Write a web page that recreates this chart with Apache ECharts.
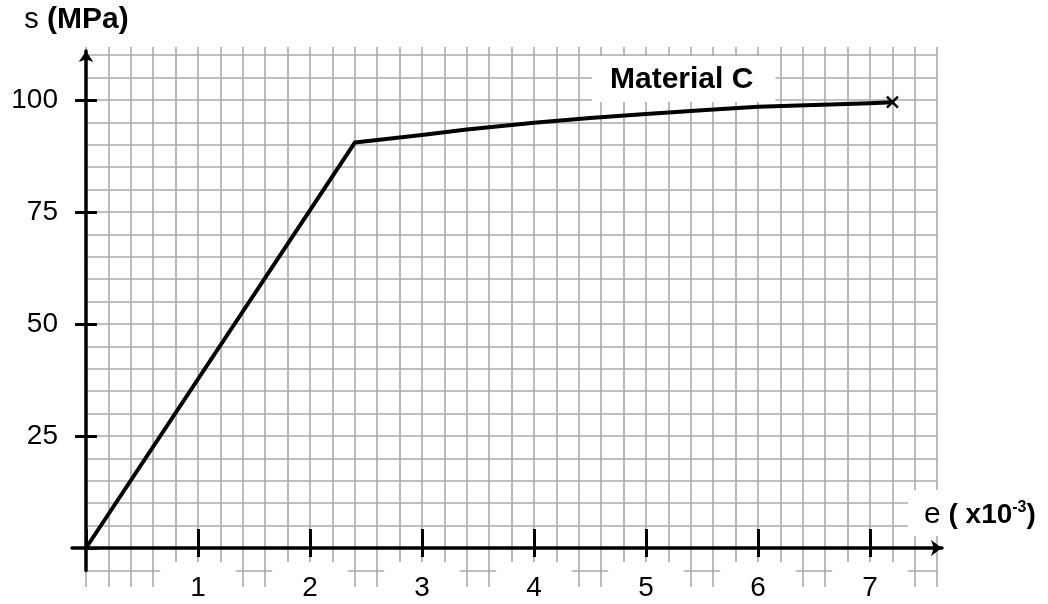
<!DOCTYPE html>
<html>
<head>
<meta charset="utf-8">
<script src="https://cdn.jsdelivr.net/npm/echarts@6/dist/echarts.min.js"></script>
<style>
  html, body { margin: 0; padding: 0; background: #fff; }
  #chart { width: 1048px; height: 604px; }
</style>
</head>
<body>
<div id="chart"></div>
<script>
// ---- data ----
const seriesName = 'Material C';
const strain = [0, 2.4, 3.0, 3.4, 4.0, 4.5, 5.0, 5.5, 6.0, 6.5, 7.0, 7.2];      // x10^-3
const stress = [0, 90.5, 92.2, 93.4, 94.9, 96.0, 96.9, 97.7, 98.5, 98.9, 99.3, 99.5]; // MPa
const xTicks = [1, 2, 3, 4, 5, 6, 7];
const yTicks = [25, 50, 75, 100];
const xName = ['e', ' ( x10', '-3', ')'];
const yName = ['s', ' (MPa)'];

// ---- layout (px) ----
const FONT = "'Liberation Sans', Arial, sans-serif";
const X0 = 86, Y0 = 548, PX = 112, PY = 4.48;
const XMAX = 7.6, YGMIN = -5, YGMAX = 110;
const GRID_COLOR = '#ababab';

const mainTop = 51;
const mainYMax = (Y0 - mainTop) / PY;

const hidden = { show: false };
function hiddenAxis(grid, extra) {
  return Object.assign({ gridIndex: grid, type: 'value', show: false, min: 0, max: 1 }, extra || {});
}

const lastIdx = strain.length - 1;
const seriesData = strain.map((x, i) => {
  if (i === lastIdx) {
    return {
      value: [x, stress[i]],
      symbol: 'path://M0,0L10,10M10,0L0,10',
      symbolSize: 11,
      itemStyle: { color: '#000', borderColor: '#000', borderWidth: 2.5 }
    };
  }
  return [x, stress[i]];
});

const option = {
  animation: false,
  backgroundColor: '#fff',
  textStyle: { fontFamily: FONT },
  title: [
    {
      text: seriesName,
      left: 592, top: 56,
      backgroundColor: '#fff',
      padding: [7, 22, 5, 18],
      textStyle: { fontFamily: FONT, fontSize: 30, fontWeight: 'bold', color: '#000', lineHeight: 34 }
    },
    {
      text: '{e|' + xName[0] + '}{b|' + xName[1] + '}{sup|' + xName[2] + '}{b|' + xName[3] + '}',
      left: 908, top: 490,
      backgroundColor: '#fff',
      padding: [10, 6, 6, 16],
      textStyle: {
        fontFamily: FONT, fontWeight: 'normal',
        rich: {
          e: { fontFamily: FONT, fontSize: 30, fontWeight: 'normal', color: '#000', lineHeight: 30 },
          b: { fontFamily: FONT, fontSize: 28, fontWeight: 'bold', color: '#000', lineHeight: 30 },
          sup: { fontFamily: FONT, fontSize: 16, fontWeight: 'bold', color: '#000', verticalAlign: 'top', lineHeight: 30 }
        }
      }
    }
  ],
  grid: [
    // 0: vertical grid lines
    { left: X0, top: 47, width: XMAX * PX, height: 540 },
    // 1: horizontal grid lines
    { left: X0, top: Y0 - YGMAX * PY, width: XMAX * PX, height: (YGMAX - YGMIN) * PY },
    // 2: main data grid + y axis line
    { left: X0, top: mainTop, width: XMAX * PX, height: (mainYMax + 5) * PY },
    // 3: x axis line
    { left: 72, top: mainTop, width: 870, height: Y0 - mainTop },
    // 4: x ticks / labels
    { left: X0, top: mainTop, width: 7 * PX, height: Y0 - mainTop },
    // 5: y ticks / labels
    { left: X0, top: Y0 - 100 * PY, width: 100, height: 100 * PY }
  ],
  xAxis: [
    { gridIndex: 0, type: 'value', min: 0, max: XMAX, interval: 0.2,
      axisLine: hidden, axisTick: hidden, axisLabel: hidden,
      splitLine: { show: true, showMinLine: true, showMaxLine: true, lineStyle: { color: GRID_COLOR, width: 1.6 } } },
    hiddenAxis(1),
    hiddenAxis(2, { min: 0, max: XMAX }),
    { gridIndex: 3, type: 'value', min: 0, max: 1, position: 'bottom', z: 12,
      axisLine: { show: true, symbol: ['none', 'arrow'], symbolSize: [12, 11], lineStyle: { color: '#000', width: 3.5 } },
      axisTick: hidden, axisLabel: hidden, splitLine: hidden },
    { gridIndex: 4, type: 'value', min: 0, max: 7, interval: 1, position: 'bottom', z: 10,
      axisLine: { show: false },
      axisTick: { show: true, inside: false, length: 9, lineStyle: { color: '#000', width: 3 } },
      axisLabel: {
        show: true, showMinLabel: false, margin: 14,
        formatter: v => (xTicks.indexOf(v) >= 0 ? String(v) : ''),
        fontFamily: FONT, fontSize: 28, color: '#000', lineHeight: 28,
        backgroundColor: '#fff', padding: [12, 30, 2, 30]
      },
      splitLine: hidden },
    { gridIndex: 4, type: 'value', min: 0, max: 7, interval: 1, position: 'bottom', z: 11,
      axisLine: { show: false },
      axisTick: { show: true, inside: true, length: 19, lineStyle: { color: '#000', width: 3 } },
      axisLabel: hidden, splitLine: hidden },
    hiddenAxis(5)
  ],
  yAxis: [
    hiddenAxis(0),
    { gridIndex: 1, type: 'value', min: YGMIN, max: YGMAX, interval: 5,
      axisLine: hidden, axisTick: hidden, axisLabel: hidden,
      splitLine: { show: true, showMinLine: true, showMaxLine: true, lineStyle: { color: GRID_COLOR, width: 1.6 } } },
    { gridIndex: 2, type: 'value', min: -5, max: mainYMax, z: 12,
      axisLine: { show: true, onZero: true, symbol: ['none', 'arrow'], symbolSize: [11, 11], lineStyle: { color: '#000', width: 3.5 } },
      axisTick: hidden, axisLabel: hidden, splitLine: hidden,
      name: '{s|' + yName[0] + '}{b|' + yName[1] + '}',
      nameLocation: 'end', nameGap: 16,
      nameTextStyle: {
        padding: [0, 19, 0, 0],
        rich: {
          s: { fontFamily: FONT, fontSize: 29, fontWeight: 'normal', color: '#000' },
          b: { fontFamily: FONT, fontSize: 30, fontWeight: 'bold', color: '#000' }
        }
      } },
    hiddenAxis(3),
    hiddenAxis(4),
    { gridIndex: 5, type: 'value', min: 0, max: 100, interval: 25, position: 'left', z: 4,
      axisLine: { show: false },
      axisTick: { show: true, inside: false, length: 11, lineStyle: { color: '#000', width: 3 } },
      axisLabel: {
        show: true, showMinLabel: false, margin: 28,
        formatter: v => (yTicks.indexOf(v) >= 0 ? String(v) : ''),
        fontFamily: FONT, fontSize: 28, color: '#000'
      },
      splitLine: hidden },
    { gridIndex: 5, type: 'value', min: 0, max: 100, interval: 25, position: 'left', z: 4,
      axisLine: { show: false },
      axisTick: { show: true, inside: true, length: 11, lineStyle: { color: '#000', width: 3 } },
      axisLabel: hidden, splitLine: hidden }
  ],
  series: [
    {
      name: seriesName,
      type: 'line',
      xAxisIndex: 2,
      yAxisIndex: 2,
      data: seriesData,
      symbol: 'none',
      showSymbol: true,
      smooth: false,
      z: 3,
      lineStyle: { color: '#000', width: 4, join: 'round' },
      itemStyle: { color: '#000' }
    }
  ]
};

const chart = echarts.init(document.getElementById('chart'), null, { renderer: 'canvas' });
chart.setOption(option);
</script>
</body>
</html>
